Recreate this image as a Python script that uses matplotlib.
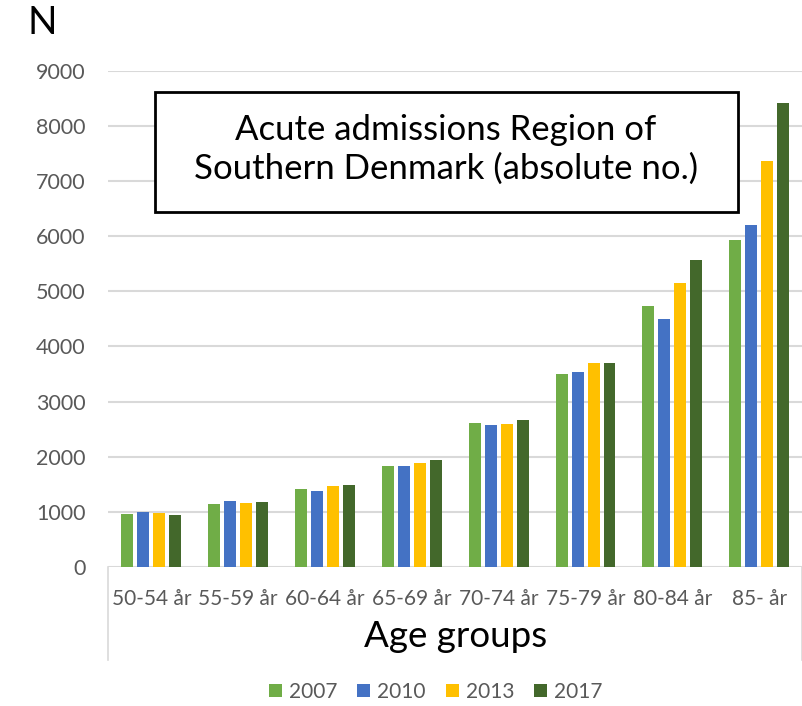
import numpy as np
import matplotlib.pyplot as plt
from matplotlib.patches import Rectangle
from matplotlib.lines import Line2D

plt.rcParams['font.family'] = ['Lato', 'DejaVu Sans']

# acute admissions per age group, one list per year
age_groups = ['50-54 år', '55-59 år', '60-64 år', '65-69 år',
              '70-74 år', '75-79 år', '80-84 år', '85- år']
years = ['2007', '2010', '2013', '2017']
adm_2007 = [960, 1145, 1415, 1840, 2605, 3505, 4735, 5930]
adm_2010 = [990, 1190, 1385, 1840, 2570, 3530, 4500, 6200]
adm_2013 = [980, 1160, 1465, 1880, 2590, 3705, 5150, 7365]
adm_2017 = [945, 1175, 1490, 1935, 2670, 3705, 5565, 8425]
series = [adm_2007, adm_2010, adm_2013, adm_2017]
colors = ['#70AD47', '#4472C4', '#FFC000', '#43682B']

fig = plt.figure(figsize=(8.03, 7.06), dpi=100)
ax = fig.add_axes([0.1345, 0.197, 0.865, 0.7025])

x = np.arange(len(age_groups))
slot = 0.184
width = 0.138
for i, (vals, col, yr) in enumerate(zip(series, colors, years)):
    ax.bar(x + (i - 1.5) * slot, vals, width=width, color=col, label=yr, zorder=3)

ax.set_xlim(-0.5, len(age_groups) - 0.5)
ax.set_ylim(0, 9000)
ax.set_yticks(np.arange(0, 9001, 1000))
ax.yaxis.grid(True, color='#D9D9D9', linewidth=1.5, zorder=0)
for s in ax.spines.values():
    s.set_visible(False)
ax.tick_params(axis='y', length=0, labelsize=15.5, labelcolor='#595959', pad=16)
ax.set_xticks(x)
ax.set_xticklabels(age_groups)
ax.tick_params(axis='x', length=0, labelsize=15, labelcolor='#595959', pad=16)
ax.set_xlabel('Age groups', fontsize=26.5, color='black', labelpad=8)

# light frame lines at both ends of the category axis
for xf in (108 / 803, 802 / 803):
    fig.add_artist(Line2D([xf, xf], [1 - 660 / 706, 1 - 567 / 706],
                          color='#D9D9D9', linewidth=1.2, transform=fig.transFigure))

fig.text(28 / 803, 1 - 23 / 706, 'N', fontsize=28, va='center', ha='left')

# boxed chart title
fig.add_artist(Rectangle((155 / 803, 1 - 212 / 706), 583 / 803, 120 / 706,
                         transform=fig.transFigure, facecolor='white',
                         edgecolor='black', linewidth=2, zorder=5))
fig.text(446 / 803, 1 - 149 / 706,
         'Acute admissions Region of\nSouthern Denmark (absolute no.)',
         fontsize=25, ha='center', va='center', linespacing=1.25, zorder=6)

leg = fig.legend(loc='center', bbox_to_anchor=(436 / 803, 1 - 692 / 706), ncol=4,
                 frameon=False, fontsize=15, handlelength=0.62, handleheight=0.62,
                 columnspacing=0.96, handletextpad=0.34)
for t in leg.get_texts():
    t.set_color('#595959')

fig.savefig('out.png', dpi=100)
